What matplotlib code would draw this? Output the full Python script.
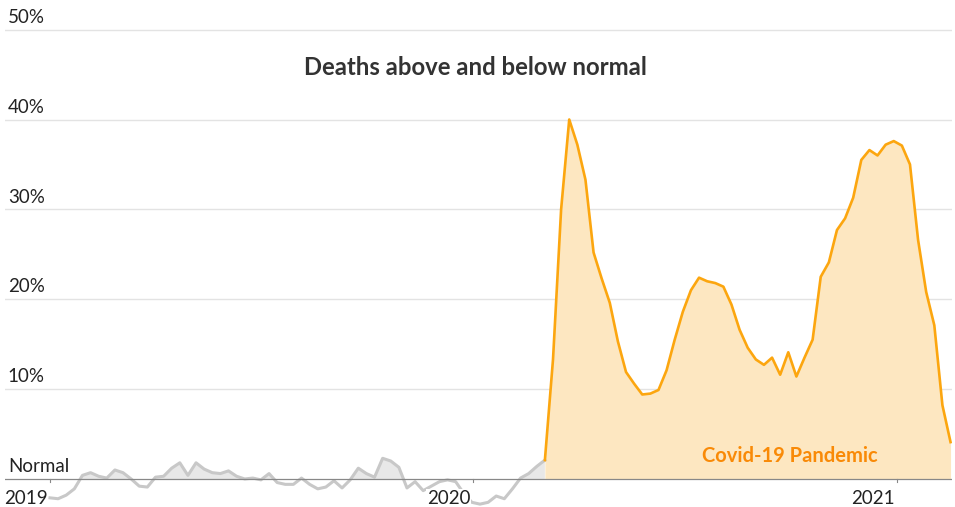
import numpy as np
import pandas as pd
import matplotlib
matplotlib.use("Agg")
import matplotlib.pyplot as plt

# weekly excess deaths (% above normal), from first week of 2019
before = [-2.1, -2.2, -1.8, -1.1, 0.4, 0.7, 0.3, 0.1, 1.0, 0.7,
          0.0, -0.8, -0.9, 0.2, 0.3, 1.2, 1.8, 0.4, 1.8, 1.1,
          0.7, 0.6, 0.9, 0.3, 0.0, 0.1, -0.1, 0.6, -0.4, -0.6,
          -0.6, 0.1, -0.6, -1.1, -0.9, -0.2, -1.0, -0.1, 1.2, 0.6,
          0.2, 2.3, 2.0, 1.3, -1.0, -0.3, -1.3, -0.8, -0.3, -0.1,
          -0.3, -1.6, -2.6, -2.8, -2.6, -1.9, -2.2, -1.1, 0.1, 0.6,
          1.4, 2.1]
pandemic = [2.1, 13.3, 30.0, 40.0, 37.2, 33.3, 25.2, 22.3, 19.6, 15.3,
            11.9, 10.6, 9.4, 9.5, 9.9, 12.1, 15.5, 18.6, 21.0, 22.4,
            22.0, 21.8, 21.4, 19.4, 16.6, 14.6, 13.3, 12.7, 13.5, 11.6,
            14.1, 11.4, 13.5, 15.5, 22.5, 24.1, 27.7, 29.0, 31.3, 35.5,
            36.6, 36.0, 37.2, 37.6, 37.1, 35.0, 26.6, 20.8, 17.1, 8.2,
            4.1]
y_ticks = [10, 20, 30, 40, 50]
year_labels = ["2019", "2020", "2021"]

start = pd.Timestamp("2019-01-01")
dates_before = pd.date_range(start, periods=len(before), freq="7D")
dates_pandemic = pd.date_range(dates_before[-1], periods=len(pandemic), freq="7D")
vb = np.array(before)
vp = np.array(pandemic)

fig = plt.figure(figsize=(9.55, 5.07), dpi=100)
ax = fig.add_axes([5 / 955, 0, 947 / 955, 1])
px_day = 1.159
ax.set_xlim(start - pd.Timedelta(days=45 / px_day), start + pd.Timedelta(days=902 / px_day))
ax.set_ylim(-3.12, 53.3)
for s in ax.spines.values():
    s.set_visible(False)
ax.set_xticks([])
ax.set_yticks([])

font = "Lato"
for t in y_ticks:
    ax.axhline(t, color="#e3e3e3", lw=1, zorder=0)
    ax.text(0.003, t + 0.75, f"{t}%", transform=ax.get_yaxis_transform(),
            fontsize=13.5, family=font, color="#222222", va="baseline", ha="left")
ax.text(0.003, 0.75, "Normal", transform=ax.get_yaxis_transform(),
        fontsize=13.5, family=font, color="#222222", va="baseline", ha="left", zorder=6)

# gray before pandemic
ax.fill_between(dates_before, vb, 0, where=vb > 0, interpolate=True,
                color="#e8e8e8", lw=0, zorder=1)
ax.plot(dates_before, vb, color="#c8c8c8", lw=2.2, solid_joinstyle="round", zorder=3)

# pandemic
ax.fill_between(dates_pandemic, vp, 0, color="#fde7c1", lw=0, zorder=1)
ax.plot(dates_pandemic, vp, color="#fca60f", lw=1.9, solid_joinstyle="round", zorder=4)

ax.axhline(0, color="#888888", lw=0.9, zorder=5)

for lab in year_labels:
    d = pd.Timestamp(f"{lab}-01-01")
    ax.plot([d, d], [0, -0.35], color="#888888", lw=0.8, zorder=5)
    ax.text(d - pd.Timedelta(days=2), -2.8, lab, fontsize=13.5, family=font,
            color="#222222", ha="right", va="baseline", zorder=7,
            bbox=dict(facecolor="white", edgecolor="none", pad=0.5))

ax.text(0.497, 45.8, "Deaths above and below normal", transform=ax.get_yaxis_transform(),
        fontsize=17.2, family=font, weight="bold", color="#333333", ha="center", va="center")
ax.text(pd.Timestamp("2020-09-30"), 1.9, "Covid-19 Pandemic", fontsize=14.5, family=font,
        weight="bold", color="#f98a07", ha="center", va="baseline", zorder=6)

fig.savefig("out.png", dpi=100)
